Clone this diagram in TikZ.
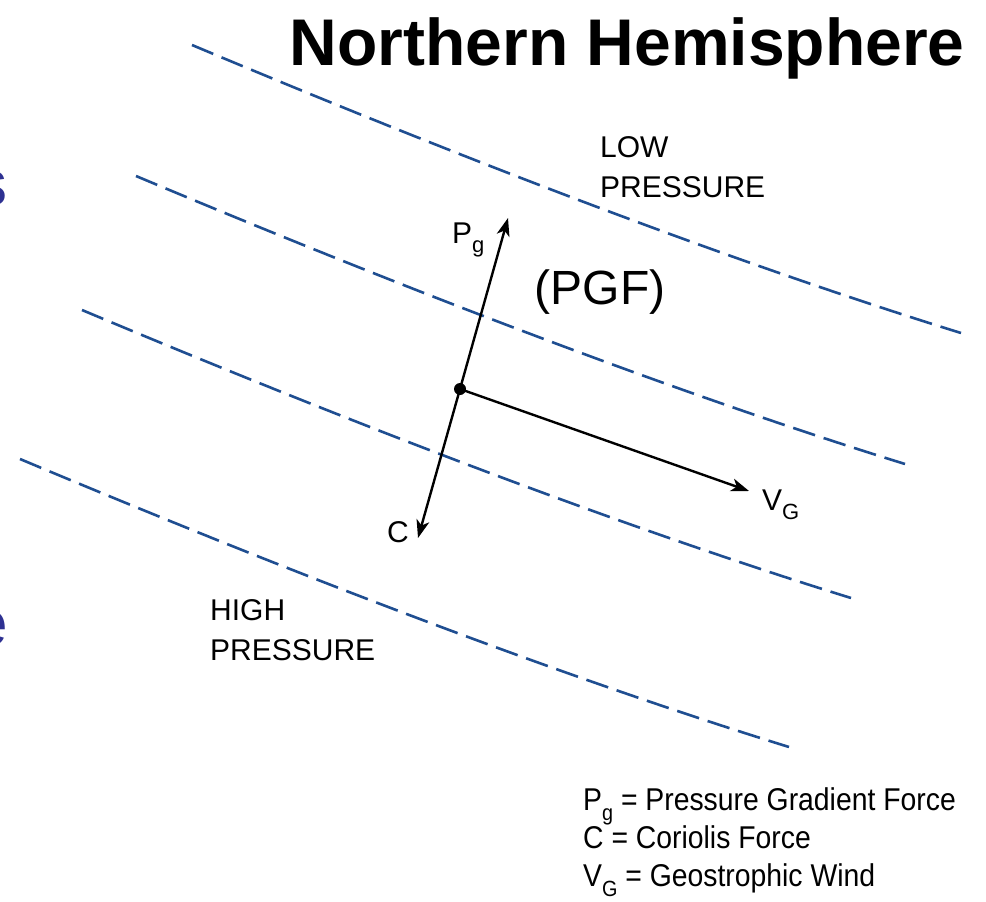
\documentclass[tikz,border=0pt]{standalone}
\usepackage{fontspec}
\setmainfont{Liberation Sans}
\newfontfamily\narrowfont[FakeStretch=0.9]{Liberation Sans}
\usetikzlibrary{arrows.meta}
\definecolor{isobar}{RGB}{31,78,145}
\definecolor{slideblue}{RGB}{46,49,146}
\newcommand{\lsub}[1]{\raisebox{-0.32em}{\fontsize{22}{22}\selectfont #1}}
\begin{document}
\begin{tikzpicture}[x=1pt,y=-1pt,
  isobarline/.style={draw=isobar, line width=2.6pt, dash pattern=on 23pt off 9pt},
  vec/.style={line width=2.4pt, -{Stealth[length=18pt,width=13pt,inset=5pt]}},
  lbl/.style={inner sep=0pt, font=\fontsize{30}{40}\selectfont},
  legend/.style={inner sep=0pt, anchor=base west, font=\narrowfont\fontsize{31.5}{31.5}\selectfont},
  frag/.style={inner sep=0pt, anchor=base east, text=slideblue, font=\fontsize{64}{64}\selectfont}
]
\useasboundingbox (0,0) rectangle (986,902);
\fill[white] (0,0) rectangle (986,902);

% isobars
\foreach \sx/\sy in {192/45,136/176,82/310,20/459}{
  \begin{scope}[shift={(\sx,\sy)}]
    \draw[isobarline] (0,0) .. controls (300.7,126.3) and (557,222.3) .. (769,288);
  \end{scope}
}

% title
\node[inner sep=0pt, anchor=base east, font=\fontsize{66}{66}\selectfont\bfseries] (title) at (965,65) {Northern Hemisphere};

% cut-off slide letters
\node[frag] (fs) at (8,205) {s};
\node[frag] (fe) at (8,645) {e};

% vectors
\node[circle, fill=black, inner sep=0pt, minimum size=12pt] (o) at (460,389) {};
\coordinate (pgtip) at (508,218);
\coordinate (ctip) at (418,538);
\coordinate (vgtip) at (749,491);
\draw[vec] (o.center) -- (pgtip);
\draw[vec] (o.center) -- (ctip);
\draw[vec] (o.center) -- (vgtip);

% labels
\node[lbl, anchor=base west] (pg) at (452,243) {P\lsub{g}};
\node[lbl, anchor=base west] (c) at (387,542) {C};
\node[lbl, anchor=base west] (vg) at (762,510) {V\lsub{G}};
\node[inner sep=0pt, font=\fontsize{48}{48}\selectfont] (pgf) at (600,292) {(PGF)};
\node[lbl, anchor=north west, align=left] (low) at (600,136) {LOW\\PRESSURE};
\node[lbl, anchor=north west, align=left] (high) at (210,599) {HIGH\\PRESSURE};

% legend
\node[legend] (l1) at (583,810) {P\lsub{g} = Pressure Gradient Force};
\node[legend] (l2) at (583,848) {C = Coriolis Force};
\node[legend] (l3) at (583,886) {V\lsub{G} = Geostrophic Wind};
\end{tikzpicture}
\end{document}
